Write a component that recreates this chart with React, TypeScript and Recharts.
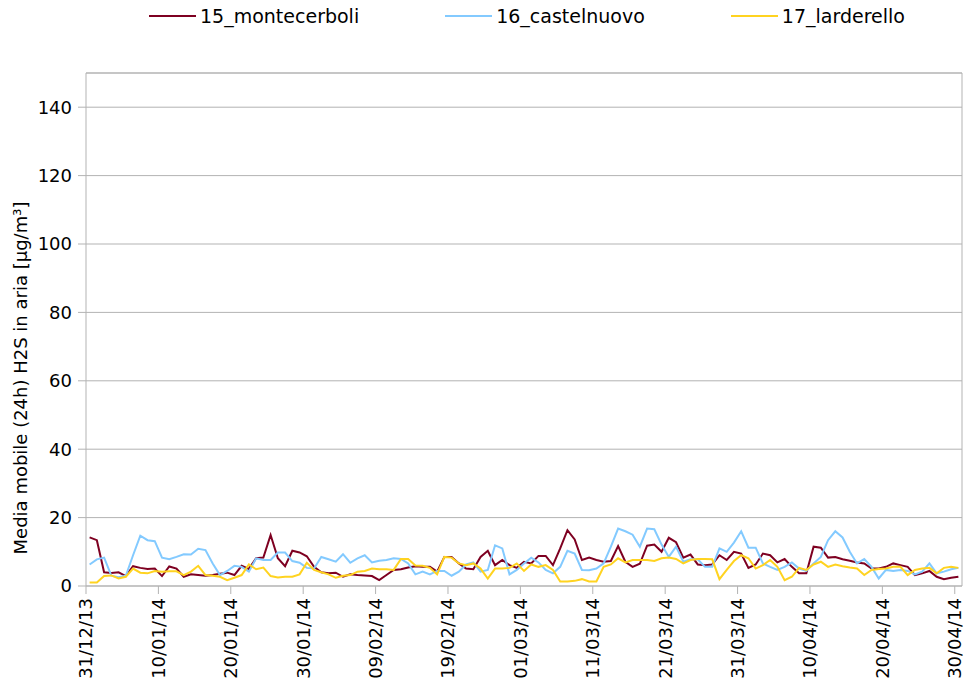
import { LineChart, Line, XAxis, YAxis, CartesianGrid, Legend, ReferenceLine } from 'recharts'

// daily 24h moving average, one value per day from 31/12/13 to 30/04/14
const montecerboli = [
  14.2, 13.4, 4.0, 3.8, 4.0, 2.9, 5.8, 5.3, 5.0, 5.1,
  2.9, 5.7, 5.1, 2.7, 3.4, 3.2, 3.0, 3.2, 3.6, 3.9,
  3.2, 5.9, 5.0, 8.1, 8.3, 14.9, 8.1, 5.8, 10.3, 9.8,
  8.7, 5.6, 4.0, 3.7, 3.9, 2.7, 3.4, 3.2, 3.1, 2.9,
  1.7, 3.2, 4.7, 4.9, 5.4, 5.8, 5.6, 5.6, 4.2, 8.5,
  8.5, 6.6, 5.1, 4.9, 8.5, 10.3, 6.1, 7.6, 6.1, 5.3,
  7.1, 6.6, 8.8, 8.8, 6.1, 11.0, 16.3, 13.6, 7.6, 8.3,
  7.6, 7.1, 7.3, 11.7, 7.1, 5.6, 6.5, 11.8, 12.1, 10.0,
  14.1, 12.8, 8.3, 9.2, 6.3, 6.1, 6.3, 9.0, 7.6, 10.0,
  9.5, 5.3, 6.3, 9.5, 9.0, 6.9, 7.9, 5.6, 3.7, 3.7,
  11.5, 11.2, 8.3, 8.5, 7.8, 7.4, 6.9, 6.6, 5.1, 5.1,
  5.6, 6.6, 6.1, 5.6, 3.2, 3.7, 4.4, 2.7, 2.0, 2.4,
  2.7,
]
const castelnuovo = [
  6.3, 7.8, 8.3, 3.0, 2.6, 3.0, 9.0, 14.7, 13.4, 13.1,
  8.3, 7.8, 8.5, 9.3, 9.2, 10.9, 10.5, 6.6, 3.2, 4.4,
  5.9, 5.6, 4.2, 8.1, 7.6, 7.6, 9.8, 9.8, 7.3, 6.8,
  5.3, 5.1, 8.5, 7.8, 7.1, 9.3, 6.8, 8.1, 9.0, 6.9,
  7.4, 7.6, 8.1, 7.9, 6.6, 3.4, 4.2, 3.4, 4.4, 4.4,
  3.0, 4.2, 6.3, 6.9, 4.2, 4.7, 11.9, 11.0, 3.4, 4.7,
  6.6, 8.3, 6.9, 4.7, 3.7, 5.6, 10.3, 9.5, 4.7, 4.6,
  5.1, 6.6, 11.5, 16.8, 16.0, 15.0, 11.5, 16.8, 16.6, 12.1,
  8.5, 11.5, 7.1, 7.8, 7.8, 5.6, 5.6, 11.0, 10.0, 12.7,
  16.0, 11.2, 11.2, 6.6, 5.6, 4.7, 5.6, 6.9, 5.1, 4.4,
  6.6, 8.5, 13.4, 16.0, 14.2, 10.0, 6.6, 7.9, 5.6, 2.2,
  4.7, 4.4, 4.7, 4.4, 3.4, 4.2, 6.6, 3.7, 4.2, 4.9,
  5.3,
]
const larderello = [
  1.0, 1.0, 2.9, 3.1, 2.2, 2.7, 5.1, 3.9, 3.7, 4.4,
  4.2, 4.3, 4.3, 3.2, 4.2, 5.9, 3.2, 3.0, 2.7, 1.7,
  2.4, 3.2, 6.3, 4.9, 5.4, 2.9, 2.5, 2.7, 2.7, 3.4,
  6.8, 4.7, 4.0, 3.4, 2.4, 3.0, 3.2, 4.2, 4.4, 5.1,
  4.9, 4.9, 4.7, 7.9, 7.9, 6.0, 5.9, 5.3, 3.4, 8.5,
  8.3, 6.6, 6.1, 6.6, 5.1, 2.2, 5.1, 5.1, 5.3, 6.6,
  4.4, 6.3, 5.6, 6.1, 4.7, 1.3, 1.3, 1.5, 2.0, 1.3,
  1.3, 5.6, 6.3, 8.1, 6.9, 7.6, 7.6, 7.6, 7.3, 8.1,
  8.3, 7.9, 6.6, 7.6, 7.9, 7.9, 7.8, 2.0, 4.7, 7.3,
  9.0, 8.1, 5.1, 6.1, 7.6, 5.6, 1.7, 2.7, 5.3, 4.7,
  6.3, 7.1, 5.6, 6.3, 5.8, 5.4, 5.1, 3.2, 4.7, 5.0,
  5.1, 5.6, 5.6, 3.2, 4.7, 5.1, 5.3, 3.7, 5.3, 5.6,
  5.3,
]

const tickLabels = [
  '31/12/13', '10/01/14', '20/01/14', '30/01/14', '09/02/14', '19/02/14', '01/03/14',
  '11/03/14', '21/03/14', '31/03/14', '10/04/14', '20/04/14', '30/04/14',
]
const yTicks = [0, 20, 40, 60, 80, 100, 120, 140]

const series = [
  { key: 'montecerboli', name: '15_montecerboli', color: '#7e0021' },
  { key: 'castelnuovo', name: '16_castelnuovo', color: '#83caff' },
  { key: 'larderello', name: '17_larderello', color: '#ffd320' },
]

// each moving-average value sits half a day after its date tick
const data = montecerboli.map((v, i) => ({
  day: i + 0.5,
  montecerboli: v,
  castelnuovo: castelnuovo[i],
  larderello: larderello[i],
}))

const FONT = '"DejaVu Sans", sans-serif'
const GRID = '#b3b3b3'

function DateTick({ x, y, payload }: any) {
  const label = tickLabels[Math.round(payload.value / 10)] ?? ''
  return (
    <text
      x={x}
      y={y}
      transform={`rotate(-90 ${x} ${y})`}
      textAnchor="end"
      dy="0.36em"
      fontSize={18}
      fontFamily={FONT}
      fill="#000"
    >
      {label}
    </text>
  )
}

function LegendRow() {
  return (
    <div style={{ display: 'flex', paddingLeft: 149, fontFamily: FONT, fontSize: 19, color: '#000' }}>
      {series.map(s => (
        <div key={s.key} style={{ display: 'flex', alignItems: 'center', marginRight: 86 }}>
          <span style={{ display: 'inline-block', width: 47, height: 2, background: s.color, marginRight: 4 }} />
          <span>{s.name}</span>
        </div>
      ))}
    </div>
  )
}

export default function App() {
  return (
    <div style={{ position: 'absolute', left: 0, top: 0, background: '#fff' }}>
      <LineChart width={969} height={689} data={data} margin={{ top: 51, right: 7, bottom: 0, left: 0 }}>
        <Legend
          verticalAlign="top"
          content={() => <LegendRow />}
          wrapperStyle={{ top: 5, left: 0, width: 969 }}
        />
        <CartesianGrid vertical={false} stroke={GRID} />
        <XAxis
          dataKey="day"
          type="number"
          domain={[0, 121]}
          ticks={[0, 10, 20, 30, 40, 50, 60, 70, 80, 90, 100, 110, 120]}
          interval={0}
          height={103}
          stroke={GRID}
          tickSize={8}
          tickMargin={4}
          tick={<DateTick />}
        />
        <YAxis
          domain={[0, 150]}
          ticks={yTicks}
          interval={0}
          width={86}
          stroke={GRID}
          tickSize={8}
          tickMargin={6}
          tick={{ fill: '#000', fontSize: 18, fontFamily: FONT }}
          label={{
            content: () => (
              <text
                x={27}
                y={378}
                transform="rotate(-90 27 378)"
                textAnchor="middle"
                fontSize={18}
                fontFamily={FONT}
                fill="#000"
              >
                Media mobile (24h) H2S in aria [µg/m³]
              </text>
            ),
          }}
        />
        <ReferenceLine y={150} stroke={GRID} />
        <ReferenceLine x={121} stroke={GRID} />
        {series.map(s => (
          <Line
            key={s.key}
            type="linear"
            dataKey={s.key}
            name={s.name}
            stroke={s.color}
            strokeWidth={2}
            dot={false}
            isAnimationActive={false}
          />
        ))}
      </LineChart>
    </div>
  )
}
